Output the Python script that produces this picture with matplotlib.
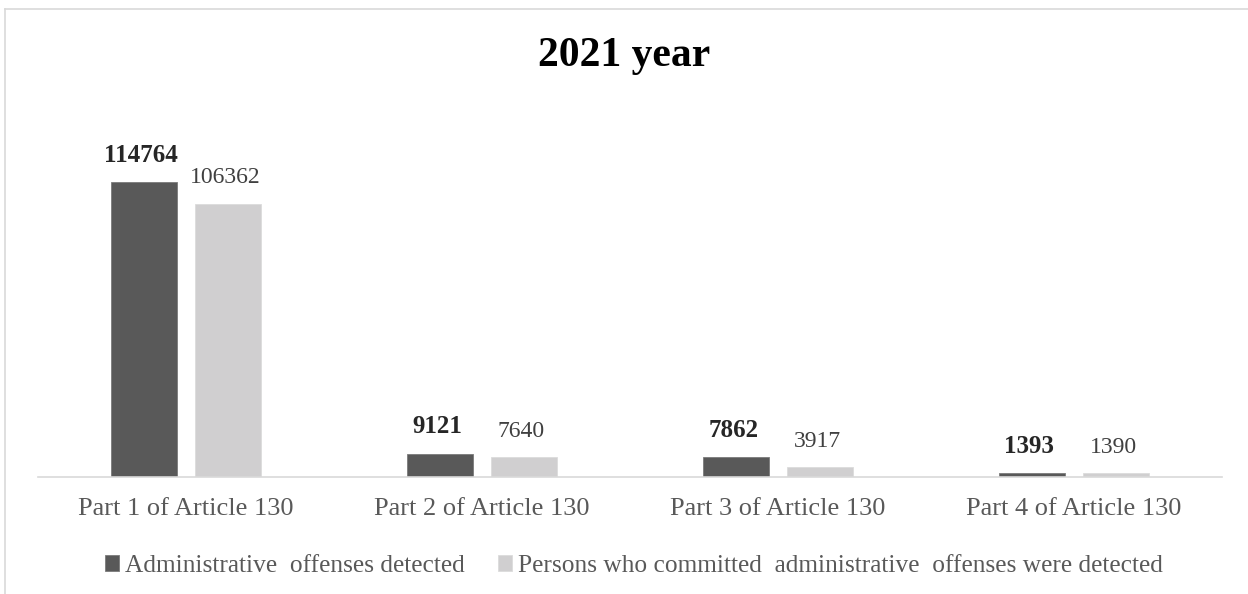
import numpy as np
import matplotlib.pyplot as plt
from matplotlib.lines import Line2D

# data
categories = ['Part 1 of Article 130', 'Part 2 of Article 130',
              'Part 3 of Article 130', 'Part 4 of Article 130']
offenses = [114764, 9121, 7862, 1393]
persons = [106362, 7640, 3917, 1390]
series_names = ['Administrative  offenses detected',
                'Persons who committed  administrative  offenses were detected']

plt.rcParams['font.family'] = ['Liberation Serif', 'DejaVu Serif']

fig = plt.figure(figsize=(12.48, 5.94), dpi=100)
ax = fig.add_axes([38/1248, 1-477/594, (1222-38)/1248, (477-100)/594])

x = np.arange(len(categories))
w = 0.223
off = 0.142
dark = '#595959'
light = '#d0cfd0'

b1 = ax.bar(x - off, offenses, w, color=dark, edgecolor='#7a7a7a', linewidth=0.6,
            label=series_names[0])
b2 = ax.bar(x + off, persons, w, color=light, edgecolor='#dcdcdc', linewidth=0.6,
            label=series_names[1])

for rect, v in zip(b1, offenses):
    ax.annotate(str(v), (rect.get_x() + rect.get_width()/2, v), xytext=(-2, 11),
                textcoords='offset points', ha='center', va='bottom',
                fontsize=18, fontweight='bold', color='#262626')
for rect, v in zip(b2, persons):
    ax.annotate(str(v), (rect.get_x() + rect.get_width()/2, v), xytext=(-2, 11),
                textcoords='offset points', ha='center', va='bottom',
                fontsize=17, color='#404040')

ax.set_xlim(-0.5, len(categories) - 0.5)
ax.set_ylim(0, 146665)
ax.set_xticks(x)
ax.set_xticklabels(categories, fontsize=19, color='#595959')
ax.tick_params(axis='x', length=0, pad=15)
ax.set_yticks([])
for s in ['top', 'right', 'left']:
    ax.spines[s].set_visible(False)
ax.spines['bottom'].set_color('#d9d9d9')
ax.spines['bottom'].set_linewidth(1.2)

fig.text(0.5, 1-56/594, '2021 year', ha='center', va='center',
         fontsize=30, fontweight='bold', color='black')

fig.legend(loc='center', bbox_to_anchor=(634/1248, 1-566/594), ncol=2, frameon=False,
           fontsize=18.3, labelcolor='#595959', handlelength=0.55, handleheight=0.55,
           handletextpad=0.25, columnspacing=1.3)

# chart outline (top and left edges are visible)
fig.lines.append(Line2D([5/1248, 1.0], [1-9/594, 1-9/594], transform=fig.transFigure,
                        color='#d9d9d9', linewidth=1.2))
fig.lines.append(Line2D([5/1248, 5/1248], [0.0, 1-9/594], transform=fig.transFigure,
                        color='#d9d9d9', linewidth=1.2))

fig.savefig('out.png', dpi=100)
